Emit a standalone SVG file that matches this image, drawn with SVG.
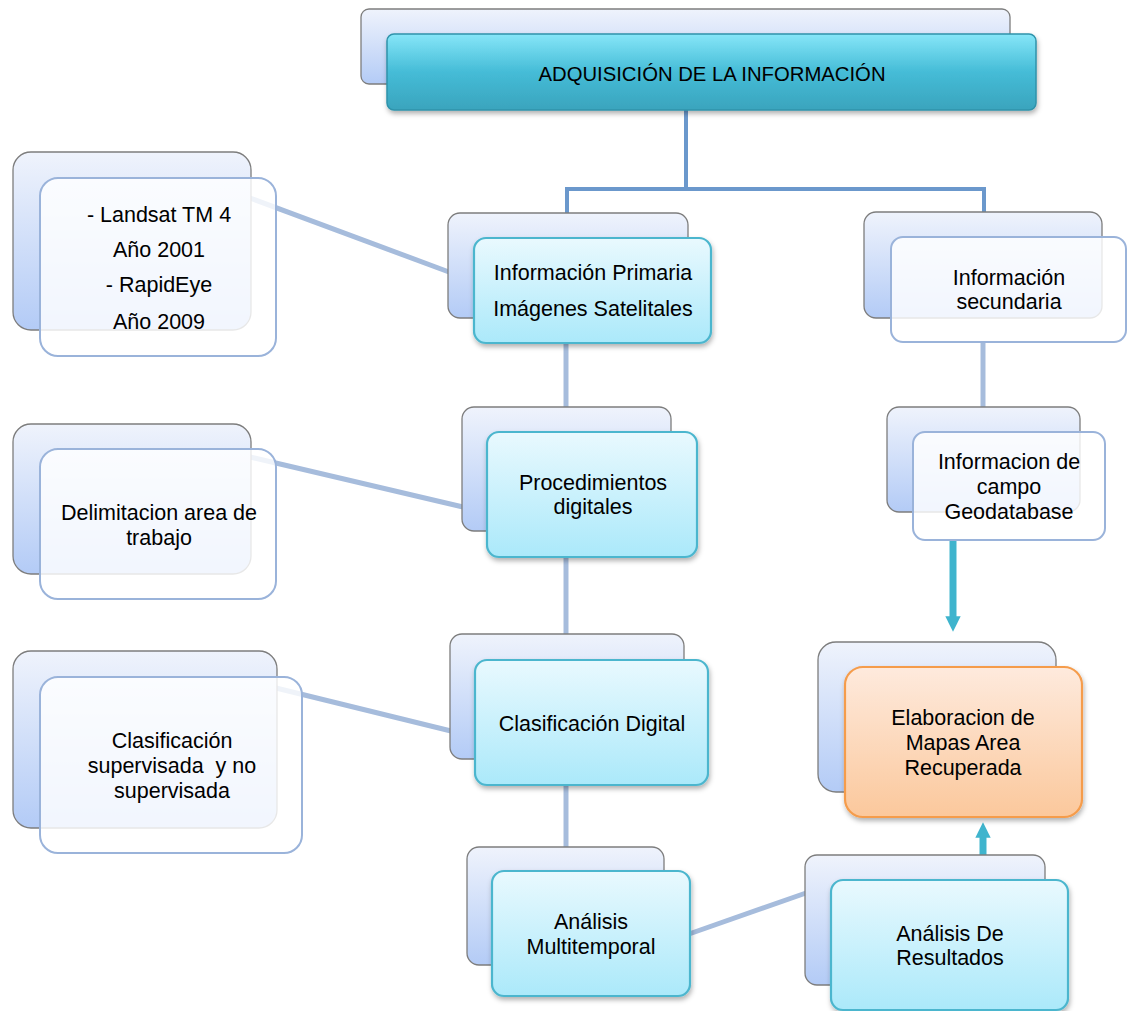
<svg xmlns="http://www.w3.org/2000/svg" width="1127" height="1011" viewBox="0 0 1127 1011">
<defs>
<linearGradient id="gBack" x1="0" y1="0" x2="0" y2="1"><stop offset="0" stop-color="#eff3fc"/><stop offset="1" stop-color="#b3cbf6"/></linearGradient>
<linearGradient id="gTeal" x1="0" y1="0" x2="0" y2="1"><stop offset="0" stop-color="#e9f9fe"/><stop offset="1" stop-color="#abe9fa"/></linearGradient>
<linearGradient id="gTitle" x1="0" y1="0" x2="0" y2="1"><stop offset="0" stop-color="#86e6f8"/><stop offset="0.5" stop-color="#45bcd7"/><stop offset="1" stop-color="#3aa4bd"/></linearGradient>
<linearGradient id="gOrange" x1="0" y1="0" x2="0" y2="1"><stop offset="0" stop-color="#feeadd"/><stop offset="1" stop-color="#fbc89c"/></linearGradient>
<filter id="sh" x="-10%" y="-10%" width="130%" height="140%"><feDropShadow dx="1" dy="3" stdDeviation="2.5" flood-color="#000" flood-opacity="0.3"/></filter>
<marker id="ah" viewBox="0 0 10 10" refX="5" refY="5" markerWidth="2.6" markerHeight="2.2" orient="auto"><path d="M0,0 L10,5 L0,10 z" fill="#3fb4cd"/></marker>
<style>
.back{fill:url(#gBack);stroke:#7d7d7d;stroke-width:1.3}
.teal{fill:url(#gTeal);stroke:#4cb6ce;stroke-width:2.2}
.white{fill:#ffffff;fill-opacity:0.82;stroke:#9ab3da;stroke-width:2}
.t{font-family:"Liberation Sans",Arial,sans-serif;font-size:21.5px;fill:#000;text-anchor:middle;white-space:pre}
.title{font-size:20.3px}
.tree{fill:none;stroke:#6b98cc;stroke-width:4}
.link{fill:none;stroke:#a6bcdc;stroke-width:5}
.arrow{fill:none;stroke:#3fb4cd;stroke-width:7}
</style>
</defs>
<g id="connectors">
<polyline class="tree" points="686,110 686,189 567,189 567,214"/>
<polyline class="tree" points="686,189 984,189 984,214"/>
<line class="link" x1="566" y1="343" x2="566" y2="408"/>
<line class="link" x1="566" y1="557" x2="566" y2="636"/>
<line class="link" x1="566" y1="785" x2="566" y2="850"/>
<line class="link" x1="983" y1="342" x2="983" y2="408"/>
<line class="link" x1="250" y1="198" x2="449" y2="272"/>
<line class="link" x1="250" y1="457" x2="463" y2="507"/>
<line class="link" x1="276" y1="688" x2="451" y2="731"/>
<line class="link" x1="689" y1="934" x2="806" y2="893"/>
<line class="arrow" x1="953" y1="541" x2="953" y2="624" marker-end="url(#ah)"/>
<line class="arrow" x1="983" y1="886" x2="983" y2="830" marker-end="url(#ah)" stroke-width="6"/>
</g>
<g id="n-title">
<rect class="back" x="361" y="9" width="649" height="75" rx="8"/>
<rect x="387" y="34" width="649" height="76" rx="7" fill="url(#gTitle)" stroke="#2f93ab" stroke-width="1.5" filter="url(#sh)"/>
<text class="t title" x="712" y="81">ADQUISICIÓN DE LA INFORMACIÓN</text>
</g>
<g id="n-landsat">
<rect class="back" x="13" y="152" width="238" height="178" rx="18"/>
<rect class="white" x="40" y="178" width="236" height="178" rx="18"/>
<text class="t" x="159" y="222">- Landsat TM 4</text>
<text class="t" x="159" y="257">Año 2001</text>
<text class="t" x="159" y="292">- RapidEye</text>
<text class="t" x="159" y="329">Año 2009</text>
</g>
<g id="n-primaria">
<rect class="back" x="448" y="213" width="240" height="105" rx="12"/>
<rect class="teal" x="474" y="238" width="237" height="105" rx="12" filter="url(#sh)"/>
<text class="t" x="593" y="280">Información Primaria</text>
<text class="t" x="593" y="316">Imágenes Satelitales</text>
</g>
<g id="n-secundaria">
<rect class="back" x="864" y="212" width="238" height="106" rx="12"/>
<rect class="white" x="891" y="237" width="235" height="105" rx="12" stroke="#5d8fd0"/>
<text class="t" x="1009" y="285">Información</text>
<text class="t" x="1009" y="309">secundaria</text>
</g>
<g id="n-procedimientos">
<rect class="back" x="462" y="407" width="209" height="124" rx="12"/>
<rect class="teal" x="487" y="432" width="210" height="125" rx="12" filter="url(#sh)"/>
<text class="t" x="593" y="490">Procedimientos</text>
<text class="t" x="593" y="514">digitales</text>
</g>
<g id="n-delimitacion">
<rect class="back" x="13" y="424" width="238" height="150" rx="18"/>
<rect class="white" x="40" y="449" width="236" height="150" rx="18"/>
<text class="t" x="159" y="520">Delimitacion area de</text>
<text class="t" x="159" y="545">trabajo</text>
</g>
<g id="n-campo">
<rect class="back" x="887" y="407" width="193" height="105" rx="12"/>
<rect class="white" x="913" y="432" width="192" height="108" rx="12"/>
<text class="t" x="1009" y="469">Informacion de</text>
<text class="t" x="1009" y="494">campo</text>
<text class="t" x="1009" y="519">Geodatabase</text>
</g>
<g id="n-clasdigital">
<rect class="back" x="450" y="634" width="234" height="125" rx="12"/>
<rect class="teal" x="475" y="660" width="233" height="125" rx="12" filter="url(#sh)"/>
<text class="t" x="592" y="731">Clasificación Digital</text>
</g>
<g id="n-clasuper">
<rect class="back" x="13" y="651" width="264" height="177" rx="18"/>
<rect class="white" x="40" y="677" width="262" height="176" rx="18"/>
<text class="t" x="172" y="748">Clasificación</text>
<text class="t" x="172" y="773">supervisada  y no</text>
<text class="t" x="172" y="798">supervisada</text>
</g>
<g id="n-elaboracion">
<rect class="back" x="818" y="642" width="238" height="150" rx="18"/>
<rect x="845" y="667" width="237" height="150" rx="18" fill="url(#gOrange)" stroke="#f59c4c" stroke-width="2.2" filter="url(#sh)"/>
<text class="t" x="963" y="725">Elaboracion de</text>
<text class="t" x="963" y="750">Mapas Area</text>
<text class="t" x="963" y="775">Recuperada</text>
</g>
<g id="n-multitemporal">
<rect class="back" x="467" y="847" width="197" height="118" rx="12"/>
<rect class="teal" x="492" y="871" width="198" height="125" rx="12" filter="url(#sh)"/>
<text class="t" x="591" y="929">Análisis</text>
<text class="t" x="591" y="954">Multitemporal</text>
</g>
<g id="n-resultados">
<rect class="back" x="805" y="855" width="240" height="130" rx="12"/>
<rect class="teal" x="831" y="880" width="237" height="130" rx="12" filter="url(#sh)"/>
<text class="t" x="950" y="941">Análisis De</text>
<text class="t" x="950" y="965">Resultados</text>
</g>
</svg>
